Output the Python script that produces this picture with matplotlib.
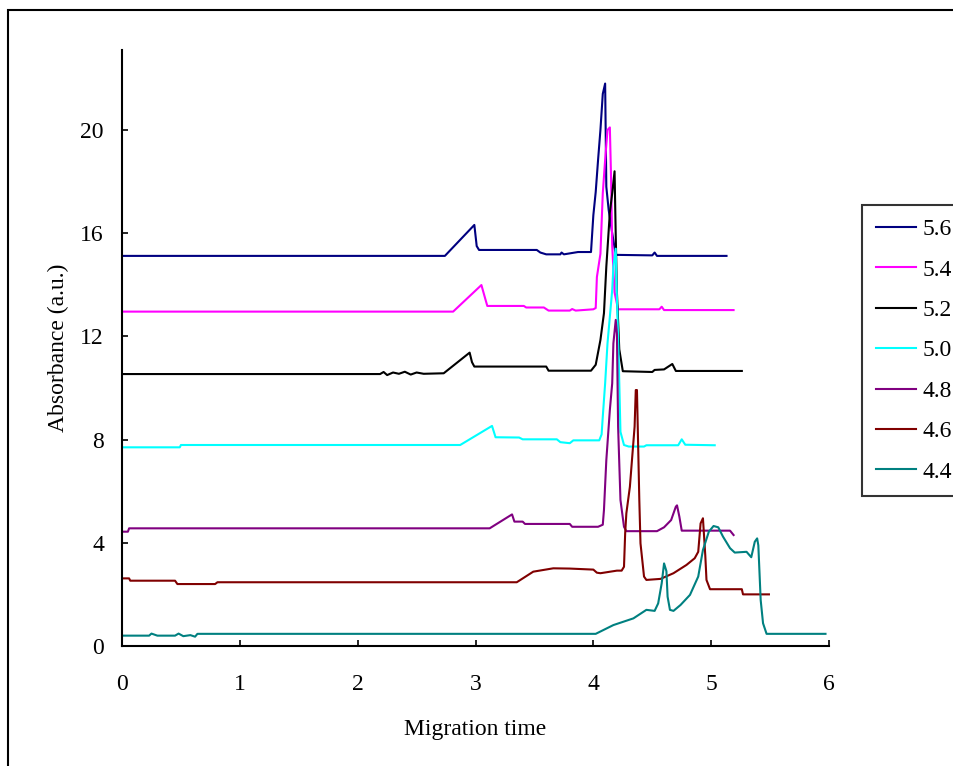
import matplotlib
matplotlib.use("Agg")
import matplotlib.pyplot as plt
from matplotlib.patches import Rectangle

plt.rcParams['font.family'] = ['Liberation Serif', 'DejaVu Serif']

# pH series
labels = ['5.6', '5.4', '5.2', '5.0', '4.8', '4.6', '4.4']
colors = ['#000080', '#FF00FF', '#000000', '#00FFFF', '#800080', '#800000', '#008080']

x56 = [0, 2.74, 2.99, 3.01, 3.03, 3.52, 3.55, 3.60, 3.72, 3.73, 3.75, 3.87, 3.98, 4.00,
       4.02, 4.04, 4.06, 4.08, 4.10, 4.11, 4.13, 4.16, 4.19, 4.50, 4.52, 4.54, 5.13]
y56 = [15.12, 15.12, 16.32, 15.5, 15.35, 15.35, 15.25, 15.18, 15.18, 15.25, 15.18, 15.27, 15.27, 16.7,
       17.6, 18.84, 20.0, 21.4, 21.8, 17.8, 16.9, 16.0, 15.16, 15.14, 15.25, 15.12, 15.12]

x54 = [0, 2.81, 3.05, 3.08, 3.10, 3.41, 3.43, 3.58, 3.62, 3.80, 3.82, 3.85, 4.00, 4.02,
       4.03, 4.06, 4.08, 4.10, 4.12, 4.14, 4.15, 4.16, 4.18, 4.21, 4.56, 4.58, 4.60, 5.19]
y54 = [12.96, 12.96, 13.99, 13.5, 13.18, 13.18, 13.12, 13.12, 13.0, 13.0, 13.06, 13.0, 13.05, 13.1,
       14.3, 15.2, 17.55, 18.84, 20.0, 20.1, 18.2, 15.5, 13.7, 13.05, 13.05, 13.15, 13.02, 13.02]

x52 = [0, 2.19, 2.22, 2.25, 2.30, 2.35, 2.40, 2.45, 2.50, 2.56, 2.73, 2.95, 2.97, 2.99,
       3.60, 3.62, 3.98, 4.02, 4.06, 4.09, 4.11, 4.14, 4.16, 4.18, 4.19, 4.20, 4.22, 4.25,
       4.50, 4.52, 4.60, 4.67, 4.70, 5.26]
y52 = [10.54, 10.54, 10.62, 10.5, 10.6, 10.55, 10.63, 10.52, 10.6, 10.55, 10.57, 11.37, 11.0, 10.83,
       10.83, 10.67, 10.67, 10.9, 11.86, 12.9, 14.7, 16.8, 17.55, 18.4, 15.9, 13.7, 11.5, 10.65,
       10.62, 10.7, 10.72, 10.93, 10.66, 10.66]

x50 = [0, 0.49, 0.5, 2.87, 3.14, 3.17, 3.37, 3.40, 3.69, 3.72, 3.80, 3.83, 4.05, 4.07,
       4.08, 4.10, 4.12, 4.14, 4.16, 4.17, 4.19, 4.20, 4.21, 4.22, 4.23, 4.26, 4.30, 4.43,
       4.45, 4.72, 4.75, 4.78, 5.03]
y50 = [7.70, 7.70, 7.79, 7.79, 8.53, 8.09, 8.08, 8.01, 8.01, 7.9, 7.86, 7.97, 7.97, 8.2,
       8.89, 10.18, 11.73, 12.76, 13.8, 14.7, 15.4, 13.5, 12.0, 10.2, 8.3, 7.79, 7.73, 7.73,
       7.78, 7.78, 8.01, 7.8, 7.78]

x48 = [0, 0.05, 0.06, 3.12, 3.31, 3.33, 3.40, 3.42, 3.80, 3.82, 4.04, 4.08, 4.09, 4.11,
       4.14, 4.16, 4.17, 4.19, 4.20, 4.21, 4.23, 4.26, 4.28, 4.54, 4.60, 4.66, 4.70, 4.71,
       4.73, 4.75, 5.16, 5.19]
y48 = [4.43, 4.43, 4.56, 4.56, 5.10, 4.82, 4.82, 4.73, 4.73, 4.62, 4.62, 4.7, 5.27, 7.2,
       9.15, 10.18, 11.73, 12.64, 12.1, 8.5, 5.66, 4.62, 4.45, 4.45, 4.6, 4.88, 5.4, 5.45,
       5.01, 4.47, 4.47, 4.3]

x46 = [0, 0.06, 0.07, 0.45, 0.47, 0.79, 0.81, 3.35, 3.49, 3.66, 3.80, 4.00, 4.03, 4.06,
       4.20, 4.24, 4.26, 4.27, 4.28, 4.31, 4.33, 4.35, 4.36, 4.37, 4.39, 4.40, 4.43, 4.45,
       4.57, 4.68, 4.79, 4.86, 4.89, 4.91, 4.93, 4.95, 4.96, 4.99, 5.26, 5.27, 5.49]
y46 = [2.62, 2.62, 2.53, 2.53, 2.40, 2.40, 2.47, 2.47, 2.88, 3.01, 3.0, 2.96, 2.84, 2.82,
       2.92, 2.92, 3.07, 4.37, 5.14, 6.17, 7.34, 8.5, 9.92, 9.92, 5.66, 3.98, 2.69, 2.56,
       2.6, 2.82, 3.14, 3.40, 3.65, 4.75, 4.95, 3.5, 2.56, 2.2, 2.2, 2.0, 2.0]

x44 = [0, 0.23, 0.25, 0.30, 0.45, 0.48, 0.52, 0.58, 0.62, 0.64, 4.02, 4.17, 4.34, 4.45,
       4.52, 4.55, 4.58, 4.60, 4.62, 4.63, 4.65, 4.68, 4.74, 4.82, 4.89, 4.93, 4.98, 5.02,
       5.06, 5.10, 5.16, 5.20, 5.30, 5.34, 5.37, 5.39, 5.40, 5.42, 5.44, 5.47, 5.97]
y44 = [0.40, 0.40, 0.48, 0.40, 0.40, 0.48, 0.38, 0.42, 0.36, 0.47, 0.47, 0.81, 1.07, 1.40,
       1.36, 1.65, 2.43, 3.2, 2.9, 1.91, 1.40, 1.36, 1.59, 1.98, 2.69, 3.72, 4.43, 4.65,
       4.6, 4.24, 3.79, 3.62, 3.65, 3.44, 4.04, 4.17, 3.9, 1.78, 0.88, 0.47, 0.47]

series = [(x56, y56), (x54, y54), (x52, y52), (x50, y50), (x48, y48), (x46, y46), (x44, y44)]

fig = plt.figure(figsize=(9.54, 7.66), dpi=100)
ax = fig.add_axes([0.1279, 0.1567, 0.7411, 0.778])

for (xs, ys), lab, c in zip(series, labels, colors):
    ax.plot(xs, ys, color=c, lw=1.5, label=lab)

ax.set_xlim(0, 6)
ax.set_ylim(0, 23.1)
ax.set_xticks(range(7))
ax.set_yticks([0, 4, 8, 12, 16, 20])
ax.tick_params(direction='in', length=4.5, width=1.2, labelsize=17)
ax.tick_params(axis='x', pad=20.5)
ax.tick_params(axis='y', pad=13)
for s in ['top', 'right']:
    ax.spines[s].set_visible(False)
for s in ['left', 'bottom']:
    ax.spines[s].set_linewidth(1.5)

ax.set_xlabel('Migration time', fontsize=17)
ax.set_ylabel('Absorbance (a.u.)', fontsize=17)
ax.xaxis.set_label_coords(0.5, -0.123)
ax.yaxis.set_label_coords(-0.075, 0.5)

leg = ax.legend(loc='upper left', bbox_to_anchor=(862 / 954, 1 - 205 / 766),
                bbox_transform=fig.transFigure, fontsize=17, frameon=True,
                fancybox=False, edgecolor='black', handlelength=1.72,
                handletextpad=0.25, borderpad=0.58, labelspacing=0.8, borderaxespad=0)
leg.get_frame().set_linewidth(1.5)

# outer chart border, running off the right and bottom edges
fig.patches.append(Rectangle((8 / 954, -0.1), 1.1, 1.1 - 10 / 766, transform=fig.transFigure,
                             fill=False, edgecolor='black', lw=1.5, clip_on=False))

fig.savefig('out.png', dpi=100)
